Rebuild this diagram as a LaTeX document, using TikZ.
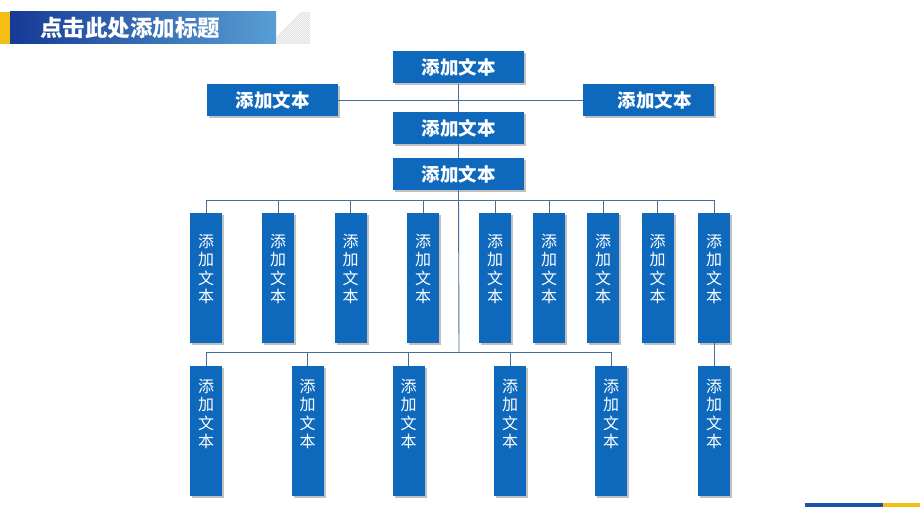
\documentclass[tikz,border=0pt]{standalone}
\usepackage{fontspec}
\setmainfont{Liberation Sans}
\newfontfamily\cjk{Noto Sans CJK SC}
\usetikzlibrary{shadows}
\definecolor{boxblue}{RGB}{14,104,188}
\definecolor{linecol}{RGB}{70,110,150}
\definecolor{navy}{RGB}{22,58,150}
\definecolor{lightblue}{RGB}{88,158,212}
\definecolor{ygold}{RGB}{245,190,20}
\definecolor{decoblue}{RGB}{28,82,170}
\begin{document}
\begin{tikzpicture}[x=1pt,y=-1pt,
  shad/.style={drop shadow={shadow xshift=2pt,shadow yshift=-2pt,opacity=0.35,fill=black!70}},
  hbox/.style={shad,fill=boxblue,minimum width=131pt,minimum height=32pt,inner sep=0pt,text=white,font=\cjk\bfseries\fontsize{18.5}{20}\selectfont},
  vbox/.style={shad,fill=boxblue,minimum width=32pt,minimum height=130pt,inner sep=0pt,text=white},
  vtext/.style={text=white,align=center,inner sep=0pt,font=\cjk\fontsize{16}{18.5}\selectfont},
  conn/.style={draw=linecol,line width=0.9pt}]
\useasboundingbox (0,0) rectangle (920,518);
\fill[white] (0,0) rectangle (920,518);
% title bar
\fill[ygold] (0,12) rectangle (10,44);
\shade[left color=navy,right color=lightblue] (10,12) rectangle (276,44);
\begin{scope}
\clip (276,12) rectangle (310,44);
\foreach \i in {0,2,...,72} {\draw[black!15,line width=0.4pt] (270+\i,44) -- (270+\i+32,12);}
\end{scope}
\node[anchor=west,text=white,inner sep=0pt,font=\cjk\bfseries\fontsize{22.5}{24}\selectfont] (title) at (40,28.5) {点击此处添加标题};
\coordinate (bus1) at (459,200);
\coordinate (bus2) at (459,352);
% upper boxes
\node[hbox] (T) at (458.5,67.5) {添加文本};
\node[hbox] (L) at (272.5,100.5) {添加文本};
\node[hbox] (R) at (648.5,100.5) {\hspace{12pt}添加文本};
\node[hbox] (M) at (458.5,128) {添加文本};
\node[hbox] (B) at (458.5,174) {添加文本};
% row 1
\foreach \n/\x in {1/206,2/278,3/350.5,4/423,5/495,6/549,7/603,8/657.5,9/714}{
  \node[vbox] (a\n) at (\x,278) {};
  \node[vtext,anchor=north] (ta\n) at (\x,234) {添\\加\\文\\本};
}
% row 2
\foreach \n/\x in {1/206,2/307.5,3/408.5,4/510,5/611,6/714}{
  \node[vbox] (b\n) at (\x,431) {};
  \node[vtext,anchor=north] (tb\n) at (\x,379) {添\\加\\文\\本};
}
% connectors
\draw[conn] (L.east) -- (R.west);
\draw[conn] (T.south) -- (M.north);
\draw[conn] (M.south) -- (B.north);
\draw[conn] (B.south) -- (bus2);
\draw[conn] (a1.north |- bus1) -- (a9.north |- bus1);
\foreach \n in {1,...,9} {\draw[conn] (a\n.north) -- (a\n.north |- bus1);}
\draw[conn] (b1.north |- bus2) -- (b5.north |- bus2);
\foreach \n in {1,...,5} {\draw[conn] (b\n.north) -- (b\n.north |- bus2);}
\draw[conn] (a9.south) -- (b6.north);
% bottom-right deco
\fill[decoblue] (805,503) rectangle (883,507);
\fill[ygold] (883,503) rectangle (920,507);
\end{tikzpicture}
\end{document}
